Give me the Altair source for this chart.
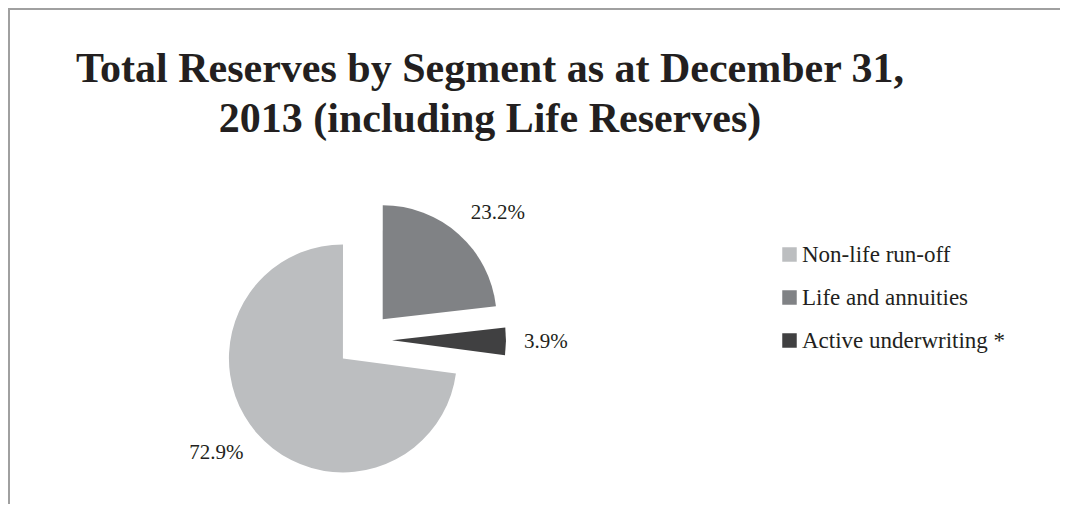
import altair as alt
import pandas as pd

# ---- data ----
segments = ["Non-life run-off", "Life and annuities", "Active underwriting *"]
shares = [72.9, 23.2, 3.9]
share_labels = ["72.9%", "23.2%", "3.9%"]
title_lines = ["Total Reserves by Segment as at December 31,", "2013 (including Life Reserves)"]

# ---- style / layout ----
colors = ["#bcbec0", "#808285", "#404041"]
FONT = "Liberation Serif"
TEXT = "#231f20"
BORDER = "#a0a0a0"
W, H = 1052, 496
CX, CY = 356, 332          # pie centre (pixels in plot area)
R = 114                    # pie radius
EXPLODE = 28               # slice explosion distance
LABEL_R = 160              # data label anchor radius
LABEL_HALF_H = 11
START = 97.6 * 3.141592653589793 / 180  # first slice angle

df = pd.DataFrame({"segment": segments, "share": shares,
                   "label": share_labels, "idx": list(range(len(segments)))})

base = alt.Chart(df).transform_window(
    cum="sum(share)", sort=[alt.SortField("idx")], frame=[None, 0]
).transform_joinaggregate(
    total="sum(share)"
).transform_calculate(
    t1=f"{START} + 2*PI*datum.cum/datum.total"
).transform_calculate(
    t0="datum.t1 - 2*PI*datum.share/datum.total"
).transform_calculate(
    mid="(datum.t0 + datum.t1)/2"
).transform_calculate(
    cx=f"{CX} + {EXPLODE}*sin(datum.mid)",
    cy=f"{CY} - {EXPLODE}*cos(datum.mid)",
    lx=f"{CX} + {LABEL_R}*sin(datum.mid)",
    ly=f"{CY} - ({LABEL_R} + {LABEL_HALF_H})*cos(datum.mid)",
)

arcs = base.mark_arc(radius=R).encode(
    theta=alt.Theta("t0:Q", scale=None, stack=None),
    theta2="t1:Q",
    x=alt.X("cx:Q", scale=None, axis=None),
    y=alt.Y("cy:Q", scale=None, axis=None),
    color=alt.Color(
        "segment:N",
        scale=alt.Scale(domain=segments, range=colors),
        legend=alt.Legend(
            title=None, orient="none", legendX=770, legendY=235,
            symbolType="square", symbolSize=210, symbolStrokeWidth=0,
            symbolOpacity=1, labelFont=FONT, labelFontSize=23,
            labelColor=TEXT, rowPadding=19, labelOffset=1, padding=0,
            labelLimit=400,
        ),
    ),
)

label_style = dict(baseline="middle", font=FONT, fontSize=21, color=TEXT)
labels_right = base.transform_filter("sin(datum.mid) >= 0").mark_text(
    align="left", **label_style
).encode(
    x=alt.X("lx:Q", scale=None, axis=None),
    y=alt.Y("ly:Q", scale=None, axis=None),
    text="label:N",
)
labels_left = base.transform_filter("sin(datum.mid) < 0").mark_text(
    align="right", **label_style
).encode(
    x=alt.X("lx:Q", scale=None, axis=None),
    y=alt.Y("ly:Q", scale=None, axis=None),
    text="label:N",
)

one = pd.DataFrame({"k": [0]})
title = alt.Chart(one).mark_text(
    align="center", baseline="alphabetic", font=FONT, fontSize=42,
    fontWeight="bold", color=TEXT, lineHeight=50,
).encode(x=alt.value(482), y=alt.value(74), text=alt.value(title_lines))

# chart frame: right and bottom edges fall outside the picture, as in the original
frame = alt.Chart(one).mark_rect(filled=False, stroke=BORDER, strokeWidth=2).encode(
    x=alt.value(1), x2=alt.value(W + 40), y=alt.value(1), y2=alt.value(H + 40)
)

chart = alt.layer(frame, title, arcs, labels_right, labels_left).properties(
    width=W, height=H, autosize=alt.AutoSizeParams(type="none"), padding=0,
    background="white",
).configure_view(stroke="transparent", strokeWidth=0)

chart.save("out.html", embed_options={"renderer": "svg", "actions": False})
